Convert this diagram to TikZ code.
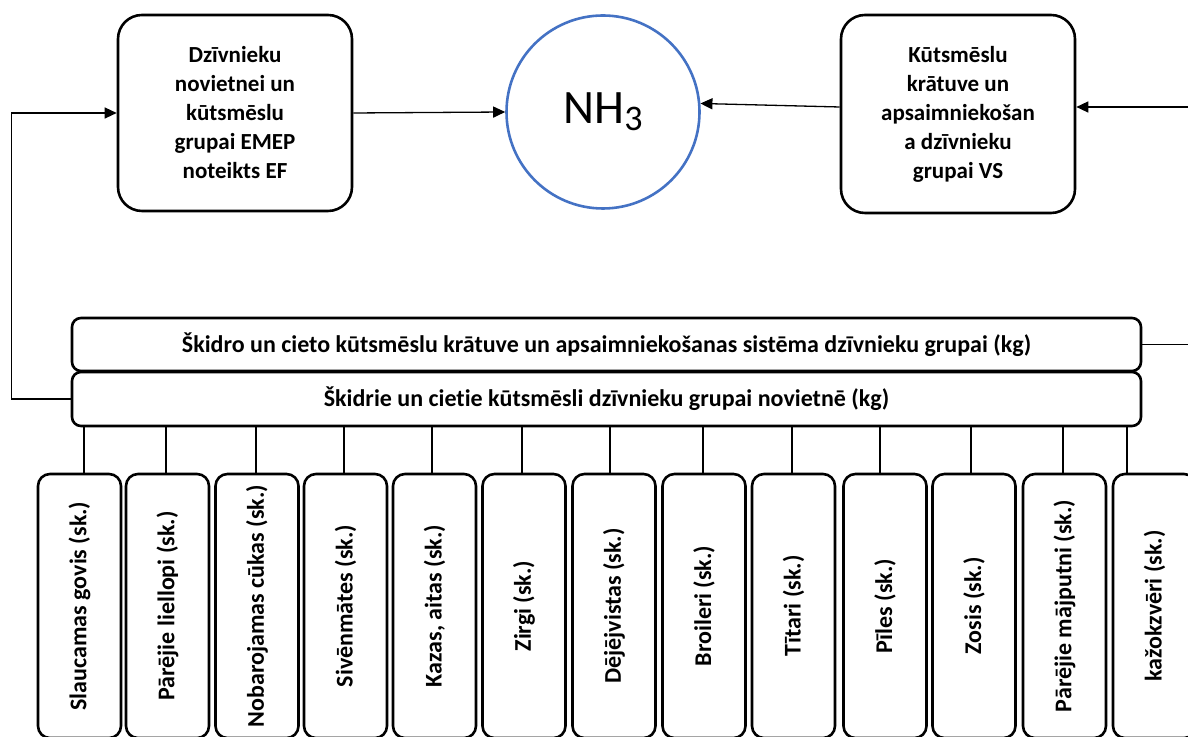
\documentclass[tikz,border=0pt]{standalone}
\usepackage{fontspec}
\usepackage{graphicx}
\setmainfont{Carlito}[Ligatures=NoCommon]
\usetikzlibrary{arrows.meta}
\definecolor{wordblue}{HTML}{4472C4}
\begin{document}
\begin{tikzpicture}[x=1pt,y=1pt,
  topbox/.style={draw, line width=2.6pt, rounded corners=24pt, align=center,
    minimum width=234pt, minimum height=196pt, inner sep=0pt,
    font=\fontsize{23}{29}\selectfont\bfseries},
  band/.style={draw, line width=2.6pt, rounded corners=9pt, inner sep=0pt,
    minimum width=1069pt, minimum height=53pt,
    font=\fontsize{24}{28}\selectfont\bfseries},
  animal/.style={draw, line width=2.6pt, rounded corners=12pt, inner sep=0pt,
    minimum width=83pt, minimum height=264pt,
    font=\fontsize{24}{28}\selectfont\bfseries},
  gas/.style={circle, draw=wordblue, line width=2.6pt, minimum size=193pt, inner sep=0pt,
    font=\fontsize{48}{50}\selectfont},
  conn/.style={line width=1.3pt},
  arr/.style={conn, -{Triangle[length=12pt,width=11pt]}}
]
\useasboundingbox (0,0) rectangle (1188,736);
\clip (0,0) rectangle (1188,736);

\node[topbox] (ef) at (235,623) {Dzīvnieku\\novietnei un\\kūtsmēslu\\grupai EMEP\\noteikts EF};
\node[gas] (nh3) at (603,624) {NH{\fontsize{36}{36}\selectfont\raisebox{-7pt}{3}}};
\node[topbox, minimum height=198pt] (vs) at (958,622) {Kūtsmēslu\\krātuve un\\apsaimniekošan\\a dzīvnieku\\grupai VS};

\node[band] (up) at (606.5,391.5) {Škidro un cieto kūtsmēslu krātuve un apsaimniekošanas sistēma dzīvnieku grupai (kg)};
\node[band, minimum height=54pt] (lo) at (606.5,337) {Škidrie un cietie kūtsmēsli dzīvnieku grupai novietnē (kg)};

\coordinate (rin) at (1192,629);
\coordinate (rout) at (1192,391.5);

\draw[arr] (ef.east) -- (nh3.west);
\draw[arr] ([yshift=7pt]vs.west) -- (nh3.5);
\draw[arr] (rin) -- ([yshift=7pt]vs.east);
\draw[conn] (up.east) -- (rout);
\draw[arr] (lo.west) -- ++(-59,0) |- (ef.west);

\foreach \i/\cx/\off/\txt in {
  1/79.5/4.5/{Slaucamas govis (sk.)},
  2/167.5/-1.5/{Pārējie liellopi (sk.)},
  3/257/-1/{Nobarojamas cūkas (sk.)},
  4/345.5/-1.5/{Sivēnmātes (sk.)},
  5/434.5/-2.5/{Kazas, aitas (sk.)},
  6/524/-2/{Zirgi (sk.)},
  7/614/-4/{Dējējvistas (sk.)},
  8/704/-1/{Broileri (sk.)},
  9/793.5/-1.5/{Tītari (sk.)},
  10/885/-5/{Pīles (sk.)},
  11/974/-3/{Zosis (sk.)},
  12/1064.5/-1.5/{Pārējie mājputni (sk.)},
  13/1154.5/-27.5/{kažokzvēri (sk.)}} {
  \node[animal] (b\i) at (\cx,130) {\rotatebox{90}{\txt}};
  \draw[conn] ([xshift=\off pt]b\i.north |- lo.south) -- ([xshift=\off pt]b\i.north);
}
\end{tikzpicture}
\end{document}
